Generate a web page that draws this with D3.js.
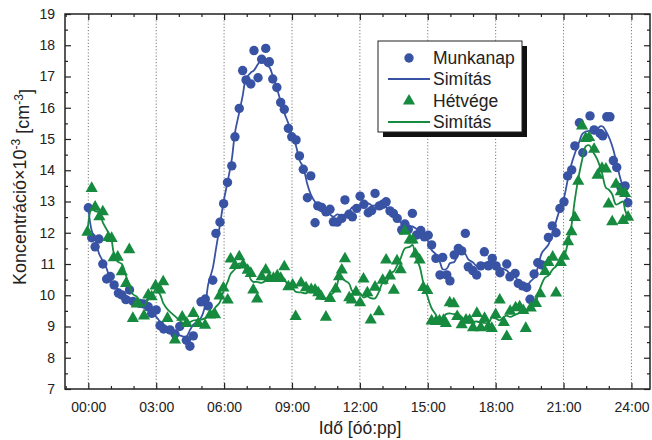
<!DOCTYPE html>
<html>
<head>
<meta charset="utf-8">
<script src="https://cdn.jsdelivr.net/npm/d3@7/dist/d3.min.js"></script>
<style>
  html, body { margin: 0; padding: 0; background: #fff; }
  svg { display: block; font-family: "Liberation Sans", Arial, sans-serif; }
</style>
</head>
<body>
<svg id="chart" width="652" height="440"></svg>
<script>
// ---- Data (hours, concentration ×10^3 cm^-3) ----
const munkanapTime = [0.00,0.15,0.30,0.47,0.64,0.81,0.97,1.14,1.33,1.48,1.66,1.82,1.98,2.28,2.45,2.65,2.80,3.00,3.17,3.33,3.61,3.83,4.04,4.33,4.49,4.64,4.98,5.17,5.30,5.50,5.64,5.82,5.98,6.15,6.34,6.48,6.67,6.82,6.97,7.18,7.32,7.50,7.66,7.84,8.00,8.15,8.33,8.50,8.66,8.84,8.99,9.18,9.33,9.50,9.68,9.83,10.02,10.14,10.31,10.50,10.68,10.83,11.00,11.20,11.34,11.52,11.67,11.86,12.01,12.18,12.37,12.52,12.67,12.86,13.01,13.16,13.33,13.48,13.65,13.85,13.99,14.14,14.32,14.51,14.69,14.85,15.02,15.17,15.36,15.54,15.66,15.84,15.98,16.17,16.35,16.50,16.66,16.79,16.99,17.16,17.34,17.50,17.68,17.85,18.02,18.19,18.49,18.63,18.86,19.00,19.18,19.37,19.52,19.70,19.86,20.04,20.33,20.50,20.67,20.84,21.02,21.18,21.36,21.50,21.70,21.85,22.17,22.35,22.61,22.73,22.91,23.05,23.20,23.35,23.54,23.72,23.84];
const munkanapValue = [12.80,11.84,11.55,11.80,11.00,10.52,10.60,10.33,10.07,10.01,9.86,10.17,9.80,9.74,9.72,9.63,9.42,9.53,9.03,8.92,8.89,8.76,9.00,8.56,8.37,8.70,9.79,9.88,9.66,10.48,11.98,12.34,12.93,13.61,14.14,15.07,15.98,17.19,16.89,16.76,17.83,16.96,17.55,17.90,17.47,16.92,16.65,16.17,15.95,15.34,15.07,14.97,14.46,14.03,13.12,13.82,12.32,12.86,12.81,12.67,12.75,12.35,12.34,12.46,13.05,12.59,12.51,12.78,13.17,12.91,12.64,12.71,13.26,12.86,12.91,12.99,12.70,12.62,12.46,12.09,12.28,12.11,12.62,11.93,12.07,11.87,11.92,11.61,11.18,10.65,11.21,10.65,10.46,11.29,11.50,11.42,11.98,10.91,10.79,10.65,10.94,11.39,10.94,11.18,10.94,10.72,11.00,10.59,10.70,10.38,10.30,10.25,9.87,10.68,11.04,10.97,11.85,12.22,12.00,12.78,12.99,13.82,14.01,14.78,15.52,14.56,15.74,15.29,15.18,15.10,15.71,15.71,14.31,14.09,13.45,13.50,12.96];

const hetvegeTime = [-0.04,0.15,0.30,0.49,0.64,0.88,1.03,1.12,1.30,1.48,1.67,1.81,1.97,2.14,2.46,2.65,2.80,2.97,3.17,3.31,3.50,3.83,4.15,4.35,4.64,4.86,5.16,5.38,5.60,5.80,5.97,6.16,6.29,6.48,6.67,6.84,7.04,7.18,7.29,7.46,7.66,7.84,7.99,8.18,8.35,8.50,8.66,8.84,9.03,9.16,9.40,9.62,9.85,10.02,10.16,10.28,10.50,10.68,10.93,11.08,11.20,11.34,11.53,11.64,11.83,12.01,12.16,12.33,12.48,12.67,12.84,13.01,13.16,13.33,13.50,13.64,13.80,13.99,14.20,14.33,14.45,14.64,14.80,14.98,15.17,15.36,15.52,15.70,15.80,15.97,16.15,16.30,16.50,16.69,16.85,17.00,17.17,17.34,17.51,17.68,17.83,18.00,18.18,18.36,18.49,18.64,18.88,19.06,19.22,19.33,19.55,19.78,19.97,20.18,20.33,20.52,20.67,20.88,21.02,21.20,21.35,21.50,21.65,21.82,21.98,22.13,22.35,22.50,22.70,22.87,22.99,23.15,23.32,23.53,23.63,23.72,23.85];
const hetvegeValue = [12.02,13.42,12.82,12.51,12.67,11.85,11.82,11.20,11.22,10.75,10.38,11.46,9.26,9.72,9.34,10.01,9.95,10.30,10.17,10.43,9.26,8.57,9.30,9.10,9.42,9.10,9.04,9.37,9.38,9.98,10.23,9.85,11.16,10.95,11.23,10.97,10.80,10.70,10.17,9.88,10.59,10.81,10.54,10.54,10.62,10.54,10.91,10.27,10.33,9.32,10.39,10.24,10.18,10.17,10.08,9.97,9.30,9.90,10.20,10.59,10.81,11.17,9.92,9.85,10.10,9.76,10.52,10.08,9.21,10.26,9.47,10.48,11.13,10.62,10.16,11.10,10.82,12.05,11.77,11.77,11.32,11.13,10.25,10.15,9.18,9.16,9.18,9.20,9.10,9.76,9.73,9.32,9.06,9.21,9.20,8.96,9.42,8.96,9.26,8.99,8.94,9.38,9.85,9.13,8.68,9.49,9.60,9.63,9.51,8.94,9.59,9.74,10.05,10.76,11.05,11.22,10.07,11.05,11.25,11.71,12.03,12.49,13.65,15.42,15.02,15.05,14.67,13.84,14.06,14.04,12.92,12.35,13.55,13.31,12.39,13.26,12.50];

const xTickValues = [0,3,6,9,12,15,18,21,24];
const xTickLabels = ["00:00","03:00","06:00","09:00","12:00","15:00","18:00","21:00","24:00"];
const yTickValues = [7,8,9,10,11,12,13,14,15,16,17,18,19];
const legendLabels = ["Munkanap","Simítás","Hétvége","Simítás"];

// ---- Layout ----
const svg = d3.select("#chart");
const L = 65, T = 14, R = 650, B = 389;
const x = d3.scaleLinear().domain([-1.03, 24.82]).range([L, R]);
const y = d3.scaleLinear().domain([7, 19]).range([B, T]);
const blue = "#3953a4", green = "#168a3e";

// adjacent-averaging smoothing of the measured points ("Simítás"), symmetric window shrinking at the ends
function smooth(vals, half) {
  const n = vals.length;
  return vals.map((v, i) => {
    const h = Math.min(half, i, n - 1 - i);
    return d3.mean(vals.slice(i - h, i + h + 1));
  });
}
const munkanap = munkanapTime.map((t, i) => ({t, v: munkanapValue[i]}));
const hetvege = hetvegeTime.map((t, i) => ({t, v: hetvegeValue[i]}));
const munkanapS = smooth(munkanapValue, 2).map((v, i) => ({t: munkanapTime[i], v}));
const hetvegeS = smooth(hetvegeValue, 2).map((v, i) => ({t: hetvegeTime[i], v}));

// dotted vertical grid
svg.append("g").selectAll("line").data(xTickValues).join("line")
  .attr("x1", d => x(d)).attr("x2", d => x(d))
  .attr("y1", T).attr("y2", B)
  .attr("stroke", "#777").attr("stroke-width", 1).attr("stroke-dasharray", "1.2,2");

// axes with inward ticks
const minorX = d3.range(-1, 25, 1).filter(d => !xTickValues.includes(d));
const minorY = d3.range(7.5, 19, 1);
function axisG(axisFn, tr) {
  return svg.append("g").attr("transform", tr).call(axisFn);
}
const bottom = axisG(d3.axisBottom(x).tickValues(xTickValues).tickFormat((d, i) => xTickLabels[i]).tickSizeInner(-6).tickSizeOuter(0).tickPadding(15), `translate(0,${B})`);
axisG(d3.axisBottom(x).tickValues(minorX).tickFormat("").tickSizeInner(-3).tickSizeOuter(0), `translate(0,${B})`);
axisG(d3.axisTop(x).tickValues(xTickValues).tickFormat("").tickSizeInner(-6).tickSizeOuter(0), `translate(0,${T})`);
axisG(d3.axisTop(x).tickValues(minorX).tickFormat("").tickSizeInner(-3).tickSizeOuter(0), `translate(0,${T})`);
const left = axisG(d3.axisLeft(y).tickValues(yTickValues).tickFormat(d3.format("d")).tickSizeInner(-6).tickSizeOuter(0).tickPadding(10), `translate(${L},0)`);
axisG(d3.axisLeft(y).tickValues(minorY).tickFormat("").tickSizeInner(-3).tickSizeOuter(0), `translate(${L},0)`);
axisG(d3.axisRight(y).tickValues(yTickValues).tickFormat("").tickSizeInner(-6).tickSizeOuter(0), `translate(${R},0)`);
axisG(d3.axisRight(y).tickValues(minorY).tickFormat("").tickSizeInner(-3).tickSizeOuter(0), `translate(${R},0)`);
svg.selectAll(".domain").remove();
svg.selectAll(".tick line").attr("stroke", "#222").attr("stroke-width", 1.2);
svg.selectAll(".tick text").attr("fill", "#222").style("font-size", "14px").style("font-family", "'Liberation Sans', Arial, sans-serif");
bottom.selectAll(".tick text").attr("dy", "0.6em");

// frame
svg.append("rect").attr("x", L).attr("y", T).attr("width", R - L).attr("height", B - T)
  .attr("fill", "none").attr("stroke", "#222").attr("stroke-width", 1.5);

// series
const line = d3.line().x(d => x(d.t)).y(d => y(d.v)).curve(d3.curveCatmullRom.alpha(0.5));
const tri = d3.symbol().type(d3.symbolTriangle).size(64);

svg.append("g").selectAll("circle").data(munkanap).join("circle")
  .attr("cx", d => x(d.t)).attr("cy", d => y(d.v)).attr("r", 4.7).attr("fill", blue);
svg.append("path").datum(munkanapS).attr("d", line).attr("fill", "none").attr("stroke", blue).attr("stroke-width", 1.8);

svg.append("g").selectAll("path").data(hetvege).join("path")
  .attr("transform", d => `translate(${x(d.t)},${y(d.v)})`).attr("d", tri).attr("fill", green);
svg.append("path").datum(hetvegeS).attr("d", line).attr("fill", "none").attr("stroke", green).attr("stroke-width", 1.8);

// axis titles
svg.append("text").attr("x", 360).attr("y", 434).attr("text-anchor", "middle")
  .style("font-size", "17.5px").attr("fill", "#222").text("Idő [óó:pp]");
const yt = svg.append("text").attr("transform", "translate(26,187) rotate(-90)").attr("text-anchor", "middle")
  .style("font-size", "18px").attr("fill", "#222");
yt.append("tspan").text("Koncentráció×10");
yt.append("tspan").attr("dy", "-0.5em").style("font-size", "12px").text("-3");
yt.append("tspan").attr("dy", "0.5em").text(" [cm");
yt.append("tspan").attr("dy", "-0.5em").style("font-size", "12px").text("-3");
yt.append("tspan").attr("dy", "0.5em").text("]");

// legend
const lg = svg.append("g");
lg.append("rect").attr("x", 383).attr("y", 46).attr("width", 144).attr("height", 91).attr("fill", "#111");
lg.append("rect").attr("x", 378).attr("y", 41).attr("width", 144).attr("height", 91).attr("fill", "#fff").attr("stroke", "#222").attr("stroke-width", 1);
const ly = [58, 79, 101, 122];
lg.append("circle").attr("cx", 409).attr("cy", ly[0]).attr("r", 4.7).attr("fill", blue);
lg.append("line").attr("x1", 388).attr("x2", 430).attr("y1", ly[1]).attr("y2", ly[1]).attr("stroke", blue).attr("stroke-width", 1.8);
lg.append("path").attr("transform", `translate(409,${ly[2]})`).attr("d", tri).attr("fill", green);
lg.append("line").attr("x1", 388).attr("x2", 430).attr("y1", ly[3]).attr("y2", ly[3]).attr("stroke", green).attr("stroke-width", 1.8);
lg.selectAll("text.lab").data(legendLabels).join("text").attr("class", "lab")
  .attr("x", 433).attr("y", (d, i) => ly[i]).attr("dy", "0.36em")
  .style("font-size", "17.5px").attr("fill", "#222").text(d => d);
</script>
</body>
</html>
